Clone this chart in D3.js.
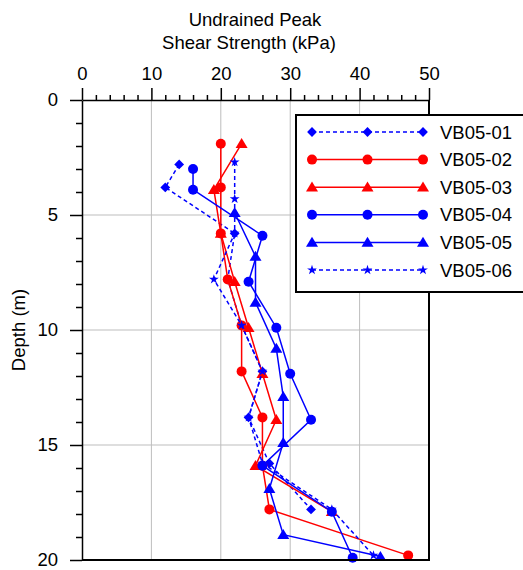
<!DOCTYPE html>
<html lang="en">
<head>
<meta charset="utf-8">
<title>Undrained Peak Shear Strength</title>
<script src="https://d3js.org/d3.v7.min.js"></script>
<style>
    body { margin: 0; background: #fff; }
    text { font-family: "Liberation Sans", Arial, sans-serif; }
    .grid line { stroke: #bdbdbd; stroke-width: 1; }
    .axis path, .axis line { stroke: #000; stroke-width: 1.5; }
    .axis text { font-size: 18.5px; fill: #000; }
</style>
</head>
<body>
<div id="chart"></div>
<script>
// series: shear strength (kPa) and depth (m)
const names = ["VB05-01", "VB05-02", "VB05-03", "VB05-04", "VB05-05", "VB05-06"];

const su01 = [14, 12, 22, 21, 23, 26, 24, 27, 33];
const dep01 = [2.8, 3.8, 5.8, 7.8, 9.8, 11.8, 13.8, 15.8, 17.8];

const su02 = [20, 20, 20, 21, 23, 23, 26, 26, 27, 47];
const dep02 = [1.9, 3.8, 5.8, 7.8, 9.8, 11.8, 13.8, 15.9, 17.8, 19.8];

const su03 = [23, 19, 20, 22, 24, 26, 28, 25, 36];
const dep03 = [1.9, 3.9, 5.8, 7.9, 9.9, 11.9, 13.9, 15.9, 17.9];

const su04 = [16, 16, 26, 24, 28, 30, 33, 26, 36, 39];
const dep04 = [3.0, 3.9, 5.9, 7.9, 9.9, 11.9, 13.9, 15.9, 17.9, 19.9];

const su05 = [22, 25, 25, 28, 29, 29, 27, 29, 43];
const dep05 = [4.9, 6.8, 8.8, 10.8, 12.9, 14.9, 16.9, 18.9, 19.85];

const su06 = [22, 22, 22, 19, 23, 26, 24, 26, 36, 42];
const dep06 = [2.7, 4.3, 5.8, 7.8, 9.8, 11.8, 13.8, 15.8, 17.8, 19.8];

const xTicks = [0, 10, 20, 30, 40, 50];
const yTicks = [0, 5, 10, 15, 20];

const colors = ["#0000ff", "#ff0000", "#ff0000", "#0000ff", "#0000ff", "#0000ff"];
const shapes = ["diamond", "circle", "triangle", "circle", "triangle", "star"];
const dashed = [true, false, false, false, false, true];

const allSu = [su01, su02, su03, su04, su05, su06];
const allDep = [dep01, dep02, dep03, dep04, dep05, dep06];

const W = 523, H = 570;
const margin = {top: 100, right: 94, bottom: 10, left: 82};
const width = W - margin.left - margin.right;
const height = H - margin.top - margin.bottom;

const svg = d3.select("#chart").append("svg")
    .attr("width", W).attr("height", H);
const g = svg.append("g")
    .attr("transform", "translate(" + margin.left + "," + margin.top + ")");

const x = d3.scaleLinear().domain([0, 50]).range([0, width]);
const y = d3.scaleLinear().domain([0, 20]).range([0, height]);

// grid
g.append("g").attr("class", "grid")
    .selectAll("line").data(xTicks.slice(1, -1)).join("line")
    .attr("x1", d => x(d)).attr("x2", d => x(d))
    .attr("y1", 0).attr("y2", height);
g.append("g").attr("class", "grid")
    .selectAll("line").data(yTicks.slice(1, -1)).join("line")
    .attr("x1", 0).attr("x2", width)
    .attr("y1", d => y(d)).attr("y2", d => y(d));

function marker(sel, shape, color) {
    if (shape == "circle") {
        sel.append("circle").attr("r", 5).attr("fill", color);
    } else if (shape == "triangle") {
        sel.append("path").attr("d", "M0,-5.6L6,4.4L-6,4.4Z").attr("fill", color);
    } else if (shape == "diamond") {
        sel.append("path").attr("d", "M0,-4.9L4.9,0L0,4.9L-4.9,0Z").attr("fill", color);
    } else {
        sel.append("path").attr("d", d3.symbol(d3.symbolStar, 30)()).attr("fill", color);
    }
}

const line = d3.line().x(d => x(d.v)).y(d => y(d.d));

for (let i = 0; i < names.length; i++) {
    const pts = allSu[i].map((v, j) => ({v: v, d: allDep[i][j]}));
    const s = g.append("g");
    s.append("path").datum(pts)
        .attr("fill", "none")
        .attr("stroke", colors[i])
        .attr("stroke-width", 1.5)
        .attr("stroke-dasharray", dashed[i] ? "4,3" : null)
        .attr("d", line);
    pts.forEach(p => {
        const m = s.append("g").attr("transform", "translate(" + x(p.v) + "," + y(p.d) + ")");
        marker(m, shapes[i], colors[i]);
    });
}

// axes
const xMinor = d3.range(0, 51, 2).filter(d => d % 10 != 0);
const yMinor = d3.range(0, 21, 1).filter(d => d % 5 != 0);

g.append("g").attr("class", "axis")
    .call(d3.axisTop(x).tickValues(xMinor).tickSize(5).tickSizeOuter(0).tickFormat(""));
g.append("g").attr("class", "axis")
    .call(d3.axisTop(x).tickValues(xTicks).tickSize(12).tickSizeOuter(0).tickPadding(8))
    .call(a => a.select(".domain").remove());

g.append("g").attr("class", "axis")
    .call(d3.axisLeft(y).tickValues(yMinor).tickSize(6).tickSizeOuter(0).tickFormat(""));
g.append("g").attr("class", "axis")
    .call(d3.axisLeft(y).tickValues(yTicks).tickSize(12).tickSizeOuter(0).tickPadding(12))
    .call(a => a.select(".domain").remove());

// frame right / bottom
g.append("path")
    .attr("d", "M0," + height + "H" + width + "V0")
    .attr("fill", "none").attr("stroke", "#000").attr("stroke-width", 2);

// titles
svg.append("text").attr("x", 255).attr("y", 26).attr("text-anchor", "middle")
    .attr("font-size", "18.5px").text("Undrained Peak");
svg.append("text").attr("x", 249).attr("y", 49).attr("text-anchor", "middle")
    .attr("font-size", "18.5px").text("Shear Strength (kPa)");
svg.append("text")
    .attr("transform", "translate(25," + (margin.top + height / 2) + ") rotate(-90)")
    .attr("text-anchor", "middle").attr("font-size", "18.5px").text("Depth (m)");

// legend
const leg = svg.append("g").attr("transform", "translate(296,115)");
leg.append("rect").attr("width", 240).attr("height", 177)
    .attr("fill", "#fff").attr("stroke", "#000").attr("stroke-width", 2);
names.forEach((n, i) => {
    const ry = 17 + i * 27.6;
    const r = leg.append("g").attr("transform", "translate(0," + ry + ")");
    r.append("line").attr("x1", 16).attr("x2", 127)
        .attr("stroke", colors[i]).attr("stroke-width", 1.5)
        .attr("stroke-dasharray", dashed[i] ? "4,3" : null);
    [16, 71.5, 127].forEach(px => {
        marker(r.append("g").attr("transform", "translate(" + px + ",0)"), shapes[i], colors[i]);
    });
    r.append("text").attr("x", 144).attr("y", 6.5).attr("font-size", "18.5px").text(n);
});
</script>
</body>
</html>
